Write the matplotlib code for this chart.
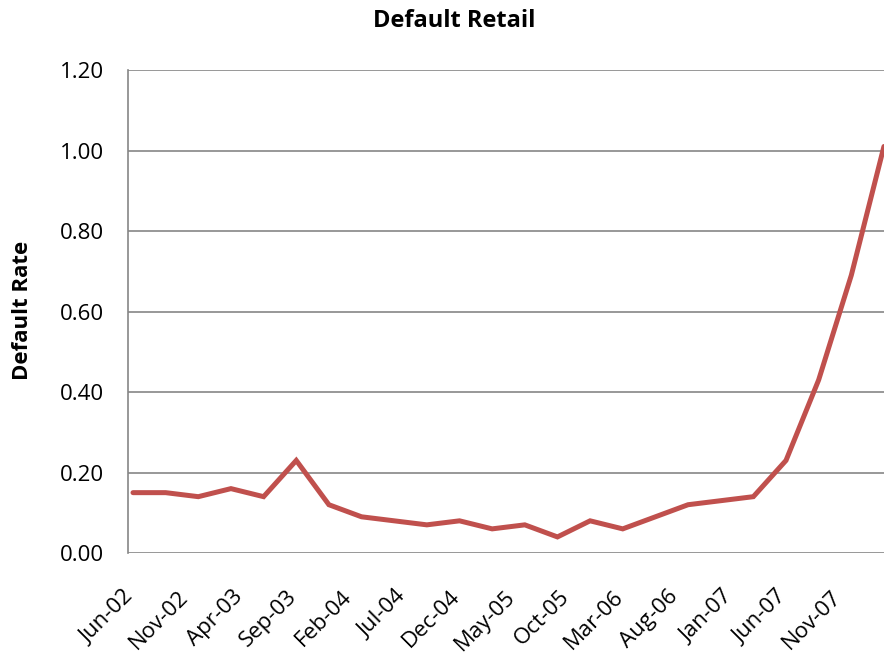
import matplotlib
matplotlib.use("Agg")
import matplotlib.pyplot as plt
from matplotlib.transforms import ScaledTranslation

# quarterly default rates, Jun-02 .. Mar-08
months = list(range(0, 70, 3))   # months since Jun-02
rates = [0.15, 0.15, 0.14, 0.16, 0.14, 0.23, 0.12, 0.09, 0.08, 0.07, 0.08, 0.06,
         0.07, 0.04, 0.08, 0.06, 0.09, 0.12, 0.13, 0.14, 0.23, 0.43, 0.69, 1.01]

tick_months = list(range(0, 66, 5))
tick_labels = ["Jun-02", "Nov-02", "Apr-03", "Sep-03", "Feb-04", "Jul-04", "Dec-04",
               "May-05", "Oct-05", "Mar-06", "Aug-06", "Jan-07", "Jun-07", "Nov-07"]

plt.rcParams['font.family'] = ['Open Sans', 'DejaVu Sans']

fig = plt.figure(figsize=(8.84, 6.53), dpi=100)
ax = fig.add_axes([0.1443, 0.1531, 0.8618, 0.7397])

ax.plot(months, rates, color="#C0504D", linewidth=3.6, solid_capstyle="round",
        solid_joinstyle="miter", zorder=3)

ax.set_xlim(-0.5, 69.5)
ax.set_ylim(0, 1.2)
yt = [0, 0.2, 0.4, 0.6, 0.8, 1.0, 1.2]
ax.set_yticks(yt)
ax.set_yticklabels(["%.2f" % v for v in yt], fontsize=16)
ax.set_xticks(tick_months)
ax.set_xticklabels(tick_labels, fontsize=16, rotation=45, ha="right", va="top",
                   rotation_mode="anchor")
ax.tick_params(axis="y", length=0, pad=17)
ax.tick_params(axis="x", length=0, pad=24)

# nudge rotated labels left so their ends sit under the ticks
shift = ScaledTranslation(-7 / 72, 0, fig.dpi_scale_trans)
for lbl in ax.get_xticklabels():
    lbl.set_transform(lbl.get_transform() + shift)

ax.grid(axis="y", color="#868686", linewidth=1.2)
ax.set_axisbelow(True)
for s in ["top", "right", "bottom"]:
    ax.spines[s].set_visible(False)
ax.spines["left"].set_color("#868686")
ax.spines["left"].set_linewidth(1.2)

fig.text(0.514, 0.968, "Default Retail", fontsize=17, fontweight="bold",
         ha="center", va="center")
fig.text(0.026, 0.525, "Default Rate", fontsize=16, fontweight="bold",
         ha="center", va="center", rotation=90)

fig.savefig("out.png", dpi=100)
